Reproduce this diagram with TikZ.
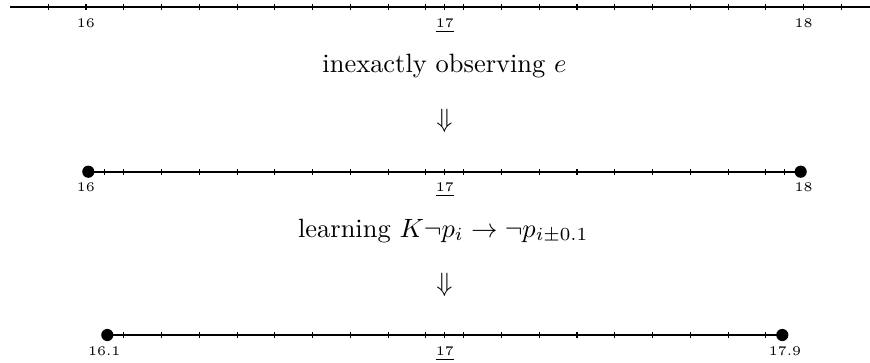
\documentclass[tikz,border=0pt]{standalone}
\begin{document}
\begin{tikzpicture}[x=0.378pt,y=-0.378pt,
  axis/.style={line width=0.8pt},
  tickmark/.style={line width=0.4pt},
  dot/.style={circle,fill,inner sep=0pt,minimum size=4.6pt},
  lab/.style={font=\tiny,anchor=base,inner sep=0pt},
  txt/.style={anchor=base,inner sep=0pt}]
\useasboundingbox (0,0) rectangle (870,362);
% ---------- top line ----------
\coordinate (tl) at (10.5,6.7);
\coordinate (tr) at (870,6.7);
\foreach \k in {-1,...,20} \draw[tickmark] ({86+37.77*\k},3.9) -- ++(0,5.6);
\draw[tickmark] (444.85,3.9) -- ++(0,5.6);
\draw[axis] (tl) -- (tr);
\node[lab] (a16) at (86,27.3) {16};
\node[lab] (a17) at (444.85,27.3) {\underline{17}};
\node[lab] (a18) at (803.7,27.3) {18};
\node[txt] (t1) at (444.5,72.3) {inexactly observing $e$};
\node[inner sep=0pt] (d1) at (444.5,121) {$\Downarrow$};
% ---------- middle line ----------
\foreach \k in {0,...,19} \draw[tickmark] ({86+37.77*\k},168.9) -- ++(0,5.6);
\foreach \x in {104.65,444.85,784.9} \draw[tickmark] (\x,168.9) -- ++(0,5.6);
\node[dot] (m16) at (88.3,171.7) {};
\node[dot] (m18) at (800.7,171.7) {};
\draw[axis] (m16.center) -- (m18.center);
\node[lab] (b16) at (86,191.7) {16};
\node[lab] (b17) at (444.85,191.7) {\underline{17}};
\node[lab] (b18) at (803.7,191.7) {18};
\node[txt] (t2) at (443.3,237) {learning $K\neg p_i \rightarrow \neg p_{i\pm0.1}$};
\node[inner sep=0pt] (d2) at (444.5,285) {$\Downarrow$};
% ---------- bottom line ----------
\foreach \k in {1,...,18} \draw[tickmark] ({86+37.77*\k},332.2) -- ++(0,5.6);
\draw[tickmark] (444.85,332.2) -- ++(0,5.6);
\node[dot] (c161) at (107.3,335) {};
\node[dot] (c179) at (782.3,335) {};
\draw[axis] (c161.center) -- (c179.center);
\node[lab] (e161) at (104.3,355.7) {16.1};
\node[lab] (e17) at (444.85,355.7) {\underline{17}};
\node[lab] (e179) at (785,355.7) {17.9};
\end{tikzpicture}
\end{document}
